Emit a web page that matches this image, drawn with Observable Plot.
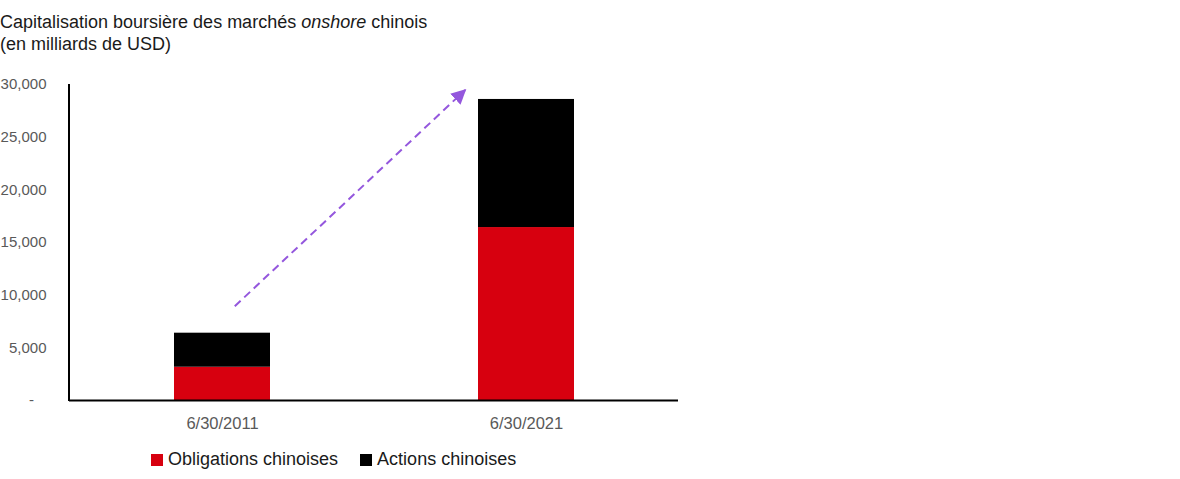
<!DOCTYPE html>
<html>
<head>
<meta charset="utf-8">
<script src="https://cdn.jsdelivr.net/npm/d3@7"></script>
<script src="https://cdn.jsdelivr.net/npm/@observablehq/plot@0.6"></script>
<style>
  html, body { margin: 0; padding: 0; background: #fff; }
  body { width: 1180px; height: 479px; position: relative; overflow: hidden; font-family: "Liberation Sans", Arial, sans-serif; }
  #title { position: absolute; left: 0; top: 11px; font-size: 18px; line-height: 22px; color: #1a1a1a; }
  #chart { position: absolute; left: 0; top: 60px; }
  #legend { position: absolute; left: 151px; top: 449px; font-size: 18px; color: #1a1a1a; display: flex; align-items: center; }
  .item { display: flex; align-items: center; margin-right: 22px; }
  .sw { width: 12px; height: 12px; margin-right: 5px; }
  #chart svg g[aria-label="x-axis tick label"] text { font-size: 16.5px; }
</style>
</head>
<body>
<div id="title">Capitalisation boursière des marchés <i>onshore</i> chinois<br>(en milliards de USD)</div>
<div id="chart"></div>
<div id="legend"></div>
<script>
const dates = ["6/30/2011", "6/30/2021"];
const seriesNames = ["Obligations chinoises", "Actions chinoises"];
const obligations = [3160, 16420];
const actions = [3230, 12160];
const seriesColors = ["#d7000f", "#000000"];
const yTicks = [0, 5000, 10000, 15000, 20000, 25000, 30000];

const data = [];
dates.forEach((d, i) => {
  data.push({date: d, series: seriesNames[0], value: obligations[i]});
  data.push({date: d, series: seriesNames[1], value: actions[i]});
});

const fmt = d3.format(",");

function annotation(index, scales, values, dims) {
  const x = scales.x, y = scales.y;
  const bw = x.bandwidth ? x.bandwidth() : 0;
  const g = d3.create("svg:g");
  g.append("defs").append("marker")
    .attr("id", "ah").attr("viewBox", "0 0 10 10")
    .attr("refX", 9).attr("refY", 5)
    .attr("markerWidth", 7.5).attr("markerHeight", 7.5)
    .attr("markerUnits", "strokeWidth")
    .attr("orient", "auto")
    .append("path").attr("d", "M0,0L10,5L0,10Z").attr("fill", "#9457dd");
  // y axis line
  g.append("line")
    .attr("x1", dims.marginLeft).attr("x2", dims.marginLeft)
    .attr("y1", y(30000)).attr("y2", y(0) + 1)
    .attr("stroke", "#000").attr("stroke-width", 2);
  // dashed growth arrow
  g.append("line")
    .attr("x1", x(dates[0]) + bw * 0.542).attr("y1", y(8900))
    .attr("x2", x(dates[1]) + bw * 0.30).attr("y2", y(29430))
    .attr("stroke", "#9457dd").attr("stroke-width", 2)
    .attr("stroke-dasharray", "8,5")
    .attr("marker-end", "url(#ah)");
  return g.node();
}

const chart = Plot.plot({
  width: 1180,
  height: 380,
  marginLeft: 69,
  marginRight: 502,
  marginTop: 24,
  marginBottom: 40,
  style: {fontFamily: "Liberation Sans, Arial, sans-serif", fontSize: "15px", color: "#595959", background: "#fff"},
  x: {domain: dates, padding: 0, label: null, tickSize: 0, tickPadding: 17},
  y: {domain: [0, 30000], ticks: yTicks, label: null, tickSize: 0, tickPadding: 23,
      tickFormat: d => d === 0 ? "-\u00a0\u00a0\u00a0" : fmt(d)},
  color: {domain: seriesNames, range: seriesColors},
  marks: [
    Plot.barY(data, {x: "date", y: "value", fill: "series", insetLeft: 104, insetRight: 104}),
    Plot.ruleY([0], {stroke: "#000", strokeWidth: 2}),
    annotation
  ]
});
document.getElementById("chart").appendChild(chart);

const legend = document.getElementById("legend");
seriesNames.forEach((name, i) => {
  const item = document.createElement("div");
  item.className = "item";
  const sw = document.createElement("div");
  sw.className = "sw";
  sw.style.background = seriesColors[i];
  const t = document.createElement("span");
  t.textContent = name;
  item.appendChild(sw); item.appendChild(t);
  legend.appendChild(item);
});
</script>
</body>
</html>
